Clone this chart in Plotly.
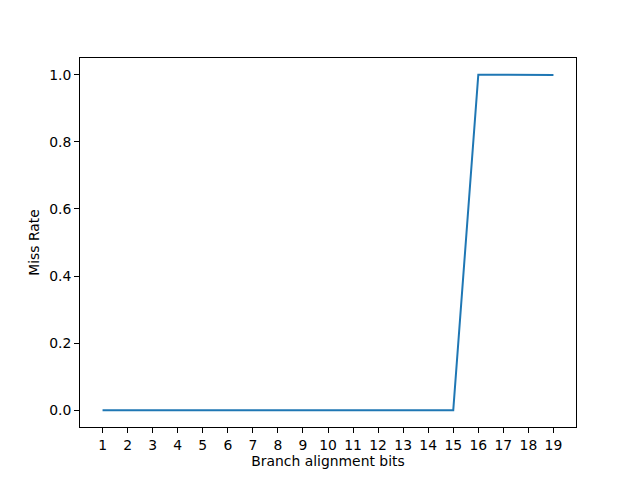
import plotly.graph_objects as go

bits = list(range(1, 20))
miss_rate = [0.0, 0.0, 0.0, 0.0, 0.001, 0.0, 0.0, 0.0, 0.0, 0.0,
             0.0, 0.0, 0.0, 0.0, 0.0, 1.0, 1.0, 0.9995, 0.9995]
x_title = "Branch alignment bits"
y_title = "Miss Rate"

font = dict(family="DejaVu Sans", size=13.9, color="black")

fig = go.Figure(go.Scatter(x=bits, y=miss_rate, mode="lines",
                           line=dict(color="#1f77b4", width=2)))

axis_common = dict(showline=True, linecolor="black", linewidth=1, mirror=True,
                   ticks="outside", ticklen=5, tickwidth=1, tickcolor="black",
                   showgrid=False, zeroline=False, tickfont=font)

fig.update_layout(
    width=632, height=472,
    paper_bgcolor="white", plot_bgcolor="white",
    margin=dict(l=72, r=64, t=50, b=53),
    showlegend=False,
    xaxis=dict(range=[0.1, 19.9], tickmode="array", tickvals=bits,
               title=dict(text=x_title, font=font, standoff=2),
               **axis_common),
    yaxis=dict(range=[-0.05, 1.05], tickmode="array", tickvals=[0, 0.2, 0.4, 0.6, 0.8, 1.0],
               ticktext=["0.0", "0.2", "0.4", "0.6", "0.8", "1.0"],
               title=dict(text=y_title, font=font, standoff=6),
               **axis_common),
)

fig.write_html("out.html")
